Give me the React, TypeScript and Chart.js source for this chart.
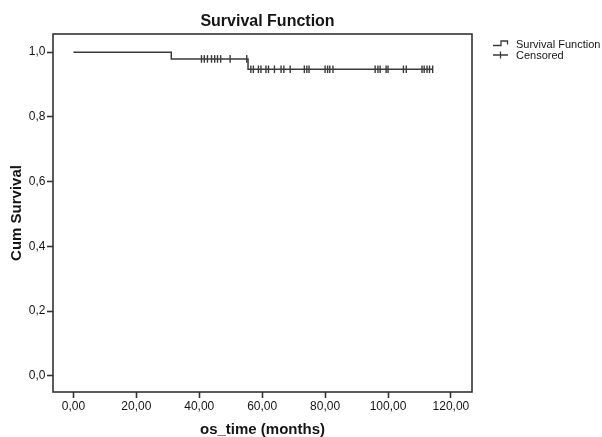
import React, { useEffect, useRef } from "react";
import { Chart, registerables } from "chart.js";

Chart.register(...registerables);

const FONT = '"Liberation Sans", Arial, Helvetica, sans-serif';

const TITLE = "Survival Function";
const X_TITLE = "os_time (months)";
const Y_TITLE = "Cum Survival";
const LEGEND_LABELS = ["Survival Function", "Censored"];

const X_TICKS = [0, 20, 40, 60, 80, 100, 120];
const Y_TICKS = [0, 0.2, 0.4, 0.6, 0.8, 1.0];

// Kaplan-Meier steps
const START_TIME = 0;
const EVENT_TIMES = [31.1, 55.5];
const SURVIVAL = [1.0, 0.979, 0.947];
const END_TIME = 114.2;

// censored observations (months)
const CENSOR_TIMES = [
  40.7, 41.6, 42.6, 43.9, 44.9, 45.8, 46.8, 49.8, 55.1,
  56.4, 57.2, 58.8, 59.6, 61.2, 62.0, 63.9, 66.0, 66.9, 68.9,
  73.4, 74.2, 74.9, 80.0, 80.8, 81.5, 82.5,
  95.9, 96.8, 97.5, 99.4, 100.0, 104.9, 105.8,
  110.8, 111.5, 112.4, 113.2, 114.2,
];

function survivalAt(t: number): number {
  let s = SURVIVAL[0];
  EVENT_TIMES.forEach((e, i) => {
    if (t >= e) s = SURVIVAL[i + 1];
  });
  return s;
}

const LINE_COLOR = "#3a3a3a";
const AXIS_COLOR = "#333333";
const TEXT_COLOR = "#151515";

const decorPlugin = {
  id: "decor",
  afterDraw(chart: any) {
    const { ctx, chartArea: a } = chart;
    ctx.save();
    // plot frame
    ctx.strokeStyle = AXIS_COLOR;
    ctx.lineWidth = 1.6;
    ctx.strokeRect(a.left, a.top, a.right - a.left, a.bottom - a.top);

    // title
    ctx.fillStyle = TEXT_COLOR;
    ctx.font = `bold 16px ${FONT}`;
    ctx.textAlign = "center";
    ctx.textBaseline = "alphabetic";
    ctx.fillText(TITLE, (a.left + a.right) / 2 + 5, a.top - 8.5);

    // legend
    const lx = a.right + 21;
    const y1 = a.top + 10;
    const y2 = a.top + 21;
    ctx.strokeStyle = LINE_COLOR;
    ctx.lineWidth = 1.3;
    ctx.beginPath();
    ctx.moveTo(lx, y1 + 1.5);
    ctx.lineTo(lx + 8, y1 + 1.5);
    ctx.lineTo(lx + 8, y1 - 3);
    ctx.lineTo(lx + 14.5, y1 - 3);
    ctx.lineTo(lx + 14.5, y1 + 0.5);
    ctx.stroke();
    ctx.beginPath();
    ctx.moveTo(lx, y2);
    ctx.lineTo(lx + 15, y2);
    ctx.moveTo(lx + 7.5, y2 - 3.5);
    ctx.lineTo(lx + 7.5, y2 + 3.5);
    ctx.stroke();

    ctx.fillStyle = TEXT_COLOR;
    ctx.font = `11px ${FONT}`;
    ctx.textAlign = "left";
    ctx.textBaseline = "alphabetic";
    ctx.fillText(LEGEND_LABELS[0], lx + 23, y1 + 4.2);
    ctx.fillText(LEGEND_LABELS[1], lx + 23, y2 + 4.2);
    ctx.restore();
  },
};

export default function App() {
  const canvasRef = useRef<HTMLCanvasElement | null>(null);

  useEffect(() => {
    document.body.style.margin = "0";
    const canvas = canvasRef.current;
    if (!canvas) return;

    const stepData = [{ x: START_TIME, y: SURVIVAL[0] }];
    EVENT_TIMES.forEach((t, i) => stepData.push({ x: t, y: SURVIVAL[i + 1] }));
    stepData.push({ x: END_TIME, y: survivalAt(END_TIME) });

    const censorData = CENSOR_TIMES.map((t) => ({ x: t, y: survivalAt(t) }));

    const chart = new Chart(canvas, {
      type: "scatter",
      data: {
        datasets: [
          {
            label: LEGEND_LABELS[0],
            data: stepData,
            showLine: true,
            stepped: "before",
            borderColor: LINE_COLOR,
            borderWidth: 1.5,
            pointRadius: 0,
            fill: false,
          },
          {
            label: LEGEND_LABELS[1],
            data: censorData,
            showLine: false,
            pointStyle: "line",
            rotation: 90,
            pointRadius: 3.8,
            borderColor: LINE_COLOR,
            borderWidth: 1.4,
          },
        ],
      },
      options: {
        animation: false,
        responsive: false,
        devicePixelRatio: 1,
        layout: { padding: { top: 34, right: 130, left: 0, bottom: 0 } },
        plugins: {
          legend: { display: false },
          title: { display: false },
          tooltip: { enabled: false },
        },
        scales: {
          x: {
            type: "linear",
            min: -6.5,
            max: 126.7,
            afterBuildTicks: (s: any) => {
              s.ticks = X_TICKS.map((v) => ({ value: v }));
            },
            afterFit: (s: any) => {
              s.height = 45;
            },
            ticks: {
              autoSkip: false,
              maxRotation: 0,
              padding: 1,
              color: TEXT_COLOR,
              font: { family: FONT, size: 12 },
              callback: (v: any) => Number(v).toFixed(2).replace(".", ","),
            },
            grid: {
              display: true,
              drawOnChartArea: false,
              drawTicks: true,
              tickLength: 6,
              tickColor: AXIS_COLOR,
              tickWidth: 1.6,
            },
            border: { display: false },
            title: {
              display: true,
              text: X_TITLE,
              color: TEXT_COLOR,
              font: { family: FONT, size: 15, weight: "bold", lineHeight: 1 },
              padding: { top: 0, bottom: 0 },
            },
          },
          y: {
            type: "linear",
            min: -0.05,
            max: 1.056,
            afterBuildTicks: (s: any) => {
              s.ticks = Y_TICKS.map((v) => ({ value: v }));
            },
            afterFit: (s: any) => {
              s.width = 53;
            },
            ticks: {
              autoSkip: false,
              padding: 1.5,
              color: TEXT_COLOR,
              font: { family: FONT, size: 12 },
              callback: (v: any) => Number(v).toFixed(1).replace(".", ","),
            },
            grid: {
              display: true,
              drawOnChartArea: false,
              drawTicks: true,
              tickLength: 6,
              tickColor: AXIS_COLOR,
              tickWidth: 1.6,
            },
            border: { display: false },
            title: {
              display: true,
              text: Y_TITLE,
              color: TEXT_COLOR,
              font: { family: FONT, size: 15, weight: "bold", lineHeight: 1 },
              padding: { top: 9.5, bottom: 0 },
            },
          },
        },
      },
      plugins: [decorPlugin],
    } as any);

    return () => chart.destroy();
  }, []);

  return (
    <div style={{ width: 602, height: 437 }}>
      <canvas ref={canvasRef} width={602} height={437} style={{ display: "block" }} />
    </div>
  );
}
